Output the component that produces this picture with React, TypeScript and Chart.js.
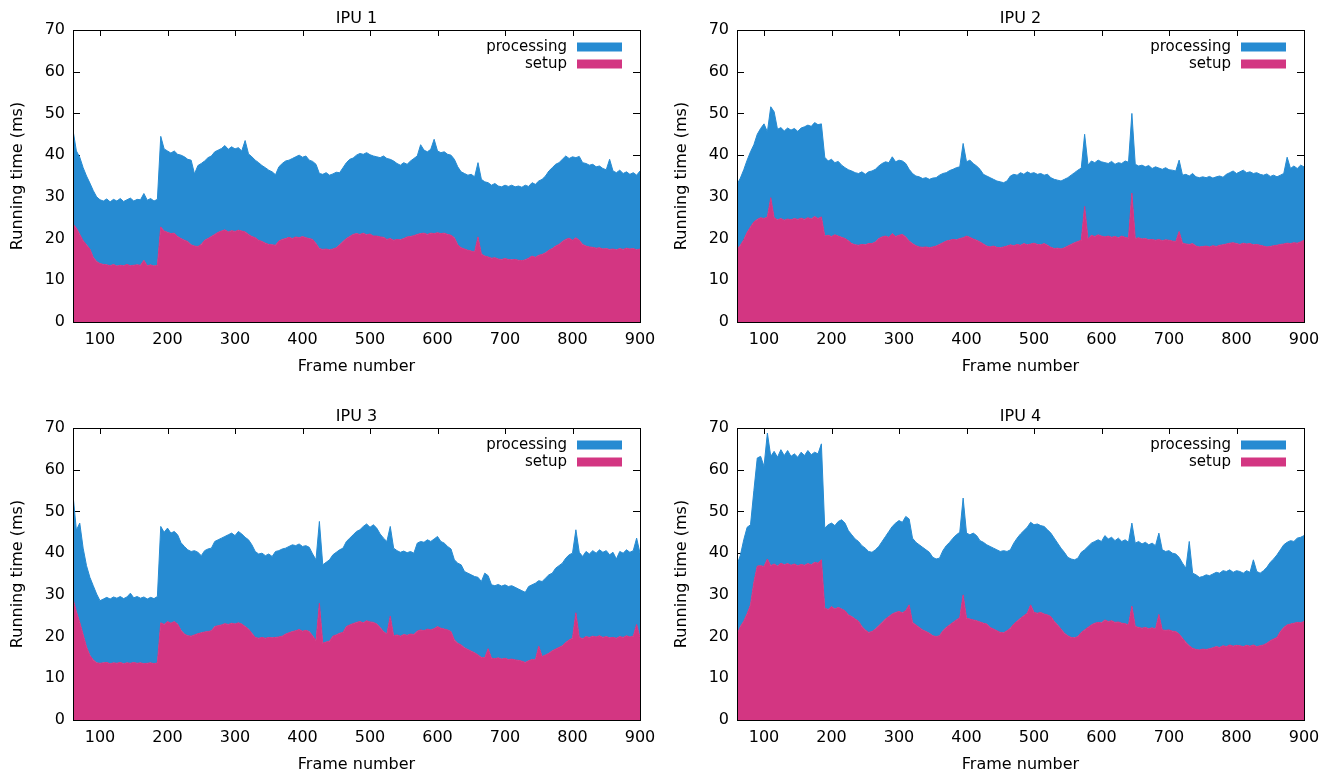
import { useEffect, useRef } from "react";
import { Chart, registerables } from "chart.js";

Chart.register(...registerables);

// ---- data -----------------------------------------------------------------
const FRAME_START = 60;
const FRAME_STEP = 5;
const X_TICKS = [100, 200, 300, 400, 500, 600, 700, 800, 900];
const Y_TICKS = [0, 10, 20, 30, 40, 50, 60, 70];
const SERIES_LABELS = ["processing", "setup"];

const IPU1_SETUP = [
  23.5, 22.5, 21, 19.5, 18.5, 17.5, 15.5, 14.5, 14, 13.8,
  13.7, 13.5, 13.8, 13.4, 13.6, 13.5, 13.8, 13.5, 13.6, 13.7,
  13.6, 14.8, 13.5, 13.7, 13.4, 13.6, 22.8, 21.8, 21.5, 21.2,
  21.3, 20.5, 20, 19.6, 19.3, 18.5, 18.2, 18.1, 18.6, 19.6,
  20, 20.5, 21, 21.5, 21.8, 22.1, 21.6, 21.9, 21.7, 22,
  21.8, 21.6, 21, 20.5, 20.2, 19.6, 19.3, 18.9, 18.6, 18.5,
  18.4, 19.4, 19.8, 20, 20.3, 20, 20.4, 20.2, 20.5, 20.2,
  20, 19.8, 18.8, 17.6, 17.4, 17.5, 17.3, 17.5, 17.8, 18.5,
  19.3, 20, 20.5, 21, 21.2, 21, 21.3, 20.9, 21.1, 20.6,
  20.6, 20.4, 20.3, 19.8, 20, 19.6, 19.8, 19.7, 20, 20.4,
  20.5, 20.7, 21, 21.2, 21.3, 21, 21.3, 21.2, 21.4, 21.2,
  21.3, 21, 20.8, 20.2, 18.5, 17.8, 17.5, 17.2, 17, 16.8,
  20.4, 16.3, 15.8, 15.6, 15.3, 15.4, 15.1, 15.0, 15.2, 15.0,
  14.9, 15, 14.8, 14.7, 14.9, 15.3, 15.8, 15.5, 16, 16.2,
  16.6, 17.2, 17.6, 18.2, 18.6, 19.3, 19.8, 20.1, 19.6, 20.2,
  19.6, 18.6, 18.2, 18.0, 17.9, 17.7, 17.8, 17.5, 17.6, 17.4,
  17.5, 17.3, 17.6, 17.4, 17.7, 17.5, 17.6, 17.3, 17.5,
];
const IPU1_PROCESSING = [
  22.5, 18.5, 18.5, 17.5, 16.5, 15.8, 16, 15.5, 15.3, 15.2,
  15.8, 15.3, 15.6, 15.6, 16.0, 15.4, 15.5, 16.2, 15.4, 15.7,
  15.7, 16.0, 15.7, 15.9, 15.6, 15.8, 21.7, 19.7, 19.5, 19.3,
  19.7, 19.7, 20.0, 20.0, 19.7, 20.3, 17.3, 19.4, 19.4, 19.0,
  19.4, 19.3, 19.8, 19.7, 19.8, 20.2, 19.8, 20.1, 19.8, 19.8,
  19.2, 21.9, 19.3, 19.1, 18.6, 18.6, 18.2, 18.1, 17.8, 17.5,
  16.9, 17.8, 18.2, 18.6, 18.5, 19.2, 19.2, 19.8, 19.0, 19.6,
  18.8, 18.7, 19.0, 18.0, 18.0, 18.3, 17.9, 18.0, 18.1, 17.3,
  17.7, 18.2, 18.5, 18.3, 18.8, 19.4, 18.9, 19.7, 19.0, 19.2,
  19.0, 19.0, 19.5, 19.4, 19.0, 19.0, 18.2, 17.9, 18.2, 17.4,
  18.1, 18.5, 18.8, 21.3, 19.9, 19.8, 20.1, 22.6, 19.6, 19.4,
  19.5, 19.2, 19.2, 18.8, 18.7, 18.2, 18.1, 18.0, 18.4, 18.0,
  17.8, 17.9, 17.8, 17.8, 17.5, 17.8, 17.5, 17.4, 17.6, 17.5,
  17.9, 17.4, 17.8, 17.6, 17.9, 17.2, 17.6, 17.5, 17.8, 18.0,
  18.4, 19.0, 19.4, 19.6, 19.6, 19.7, 20.0, 19.1, 20.0, 19.2,
  20.1, 19.6, 19.8, 19.6, 19.9, 19.5, 19.6, 19.3, 18.9, 21.6,
  18.7, 18.5, 18.8, 18.2, 18.3, 17.9, 18.2, 17.9, 18.7,
];

const IPU2_SETUP = [
  17.5, 18.4, 19.7, 21.5, 22.8, 24, 24.6, 25, 24.8, 25.2,
  29.8, 25, 24.5, 24.8, 24.4, 24.7, 24.5, 24.8, 24.6, 24.9,
  24.6, 25, 24.7, 25.3, 24.8, 25.2, 20.6, 20.8, 20.5, 20.9,
  20.6, 20.3, 20, 19.5, 18.8, 18.5, 18.4, 18.6, 18.5, 18.8,
  18.8, 19.2, 20, 20.4, 20.6, 20.3, 21.2, 20.5, 20.8, 21,
  20.4, 19.4, 18.8, 18.3, 18, 17.9, 18, 17.8, 18, 18.2,
  18.6, 19, 19.4, 19.6, 19.8, 19.7, 20, 20.2, 20.6, 20.3,
  19.9, 19.6, 19.2, 18.7, 18.2, 18, 18.2, 17.9, 17.8, 18,
  18.2, 18.5, 18.3, 18.6, 18.4, 18.8, 18.5, 18.7, 18.9, 18.6,
  18.5, 18.8, 18.4, 17.9, 17.6, 17.7, 17.5, 17.8, 18.2, 18.6,
  19, 19.3, 19.6, 27.7, 19.9, 20.8, 20.5, 20.9, 20.6, 20.4,
  20.6, 20.3, 20.5, 20.2, 20.6, 20.3, 20.1, 30.9, 20, 20.2,
  19.9, 20, 19.7, 19.8, 19.6, 19.8, 19.5, 19.7, 19.6, 19.4,
  19.3, 21.7, 18.9, 18.7, 18.6, 18.8, 18.2, 18.0, 18.1, 18.2,
  18.0, 18.3, 18.1, 18.4, 18.5, 18.7, 18.9, 19.0, 18.8, 18.6,
  18.9, 18.7, 18.8, 18.5, 18.6, 18.4, 18.2, 18.0, 18.1, 18.3,
  18.4, 18.6, 18.7, 18.9, 18.8, 19, 18.9, 19.2, 19.6,
];
const IPU2_PROCESSING = [
  15.5, 16.1, 16.8, 17.3, 18.0, 18.5, 20.4, 21.4, 22.7, 20.4,
  21.8, 25.4, 21.7, 21.8, 21.4, 21.8, 21.5, 21.6, 21.1, 21.6,
  22.2, 22.2, 22.2, 22.5, 22.5, 22.3, 18.9, 17.8, 18.5, 17.3,
  17.9, 17.3, 17.0, 17.0, 17.4, 17.3, 17.2, 17.4, 16.9, 17.2,
  17.4, 17.4, 17.4, 17.6, 17.8, 17.9, 18.4, 17.9, 18.0, 17.6,
  17.6, 17.2, 16.8, 16.7, 16.8, 16.5, 16.6, 16.4, 16.5, 16.4,
  16.6, 16.6, 16.4, 16.7, 16.8, 17.3, 17.2, 22.6, 17.8, 18.5,
  18.1, 17.8, 17.4, 16.7, 16.8, 16.6, 16.0, 15.9, 15.8, 15.4,
  15.6, 16.5, 17.1, 16.6, 17.4, 16.6, 17.5, 16.9, 16.9, 16.8,
  17.1, 16.4, 17.0, 16.7, 16.6, 16.3, 16.3, 16.4, 16.4, 16.6,
  16.8, 17.1, 17.3, 17.3, 17.7, 17.8, 17.7, 17.9, 17.8, 17.8,
  17.4, 18.2, 17.3, 18.0, 17.4, 18.3, 18.2, 19.1, 17.8, 17.2,
  17.7, 17.2, 17.8, 17.0, 17.6, 17.1, 17.1, 17.3, 16.9, 17.0,
  16.9, 17.1, 16.3, 16.7, 16.4, 16.8, 16.6, 16.6, 16.7, 16.4,
  16.9, 16.2, 16.7, 16.6, 16.2, 16.7, 16.9, 17.2, 16.8, 17.4,
  17.5, 17.1, 17.2, 17.1, 17.2, 17.0, 17.0, 17.5, 16.8, 16.9,
  16.4, 16.6, 16.9, 20.6, 18.0, 18.4, 17.9, 18.4, 17.6,
];

const IPU3_SETUP = [
  29, 26, 23.4, 20.5, 17.5, 15.5, 14.4, 13.7, 13.6, 13.7,
  13.8, 13.5, 13.7, 13.6, 13.8, 13.5, 13.7, 13.6, 13.8, 13.6,
  13.7, 13.5, 13.6, 13.7, 13.5, 13.7, 23.3, 22.9, 23.6, 23.2,
  23.6, 23.0, 21.5, 20.6, 20.2, 20.1, 20.4, 20.7, 20.9, 21.1,
  21.2, 21.4, 22.4, 22.6, 22.8, 23.1, 22.9, 23.2, 23, 23.3,
  23, 22.4, 21.8, 20.8, 19.8, 19.6, 19.8, 19.6, 19.8, 19.7,
  19.8, 19.9, 20.1, 20.6, 20.9, 21.2, 21.4, 21.7, 21.3, 21.5,
  21.2, 20.2, 19.0, 28, 18.4, 18.7, 18.9, 20.1, 20.4, 20.8,
  21, 22.4, 22.8, 23.1, 23.4, 23.6, 23.3, 23.8, 23.5, 23.4,
  23, 22.2, 21.2, 20.6, 24.9, 20.2, 20.4, 20.1, 20.5, 20.3,
  20.6, 20.5, 21.3, 21.6, 21.4, 21.8, 21.6, 21.9, 22.4, 22.0,
  21.8, 21.6, 21.2, 19.2, 18.4, 18, 17.3, 16.9, 16.5, 16.1,
  15.6, 15, 14.9, 17.1, 14.8, 14.7, 14.9, 14.6, 14.8, 14.5,
  14.6, 14.4, 14.3, 14.1, 13.8, 14.2, 14.5, 14.4, 17.7, 15.2,
  15.6, 16, 16.6, 17, 17.4, 17.8, 18.6, 19.2, 19.6, 25.7,
  19.8, 19.5, 20, 19.8, 20.1, 19.9, 20.2, 19.8, 20, 19.7,
  19.8, 19.6, 20, 19.8, 20.2, 19.9, 20.1, 22.9, 19.8,
];
const IPU3_PROCESSING = [
  25.0, 19.5, 23.8, 20.7, 19.5, 18.7, 17.8, 16.5, 15.0, 15.3,
  15.6, 15.5, 15.8, 15.6, 15.8, 15.6, 15.8, 16.8, 15.5, 16.0,
  15.5, 16.0, 15.4, 15.7, 15.6, 15.9, 23.1, 22.1, 22.4, 21.6,
  21.6, 21.4, 21.0, 21.0, 20.6, 20.3, 20.2, 19.5, 18.5, 19.5,
  19.8, 19.8, 20.4, 20.6, 20.8, 20.9, 21.5, 21.6, 21.2, 21.9,
  21.6, 21.4, 21.4, 21.2, 20.6, 20.2, 20.2, 19.8, 20.0, 19.5,
  20.6, 20.7, 20.9, 20.6, 20.7, 20.8, 20.4, 20.5, 20.3, 20.3,
  20.2, 19.6, 19.4, 19.6, 18.8, 19.1, 19.5, 19.5, 19.8, 20.0,
  20.2, 20.4, 20.8, 21.3, 21.8, 22.0, 23.1, 23.2, 22.7, 23.4,
  23.0, 22.4, 22.4, 22.2, 21.5, 21.0, 20.2, 20.1, 20.0, 19.8,
  19.8, 19.5, 21.1, 21.2, 21.2, 21.4, 21.2, 21.5, 21.6, 20.8,
  20.6, 20.0, 19.8, 19.2, 19.2, 19.2, 18.3, 18.3, 18.3, 18.3,
  18.6, 18.2, 20.3, 17.5, 17.6, 17.5, 17.6, 17.5, 17.6, 17.5,
  17.6, 17.4, 17.1, 16.9, 16.8, 17.8, 17.9, 18.4, 15.7, 18.0,
  18.4, 18.8, 18.6, 19.4, 19.6, 19.8, 20.2, 20.4, 20.4, 19.9,
  20.4, 19.7, 20.4, 20.0, 20.5, 20.1, 20.6, 20.4, 20.6, 19.9,
  20.4, 19.0, 20.4, 20.2, 20.6, 20.3, 20.5, 20.7, 20.2,
];

const IPU4_SETUP = [
  20.5, 22.4, 23.7, 25.5, 27.6, 33, 36.9, 37, 36.8, 38.6,
  37, 37.4, 36.9, 37.6, 37.2, 37.5, 37.1, 37.4, 37, 37.3,
  37.1, 37.5, 37.2, 37.8, 37.6, 38.4, 26.8, 26.5, 27.2, 26.6,
  27, 26.6, 26.2, 25.2, 24.8, 24.2, 23.7, 22.4, 21.6, 21,
  21.2, 21.8, 22.6, 23.4, 24.2, 24.8, 25.4, 25.8, 26, 25.7,
  26.2, 27.6, 23.4, 22.8, 22.2, 21.6, 21.2, 20.8, 20.2, 20.0,
  20.2, 21.4, 22.2, 22.8, 23.4, 24, 24.5, 30, 24.4, 24.2,
  24, 23.8, 23.5, 23.2, 23, 22.2, 21.8, 21.4, 21, 20.9,
  21.4, 22, 23, 23.7, 24.4, 25, 25.6, 27.6, 25.8, 25.6,
  25.8, 25.4, 25.2, 24.8, 23.6, 22.8, 21.8, 20.8, 20.2, 19.8,
  19.7, 20, 21, 21.6, 22.2, 22.8, 23.2, 23.4, 23.3, 24,
  23.6, 23.8, 23.4, 23.5, 23.2, 23.1, 22.8, 27.3, 22.4, 22.2,
  22, 22.2, 21.9, 22.1, 21.8, 25.3, 21.6, 21.5, 21.6, 21.3,
  21.2, 20.6, 19.6, 18.6, 17.8, 17.2, 16.9, 16.8, 17, 16.9,
  17.1, 17.3, 17.6, 17.4, 17.8, 17.6, 18, 17.7, 17.9, 17.8,
  17.6, 17.9, 17.7, 18, 17.6, 17.8, 18, 18.4, 19, 19.4,
  19.8, 21.2, 22.2, 22.8, 23, 23.2, 23.4, 23.3, 23.6,
];
const IPU4_PROCESSING = [
  16.7, 17.1, 19.5, 20.7, 19.2, 22.0, 25.9, 26.2, 24.0, 30.2,
  26.2, 27.0, 26.1, 27.2, 26.2, 27.1, 26.1, 26.4, 26.0, 26.9,
  26.3, 27.1, 26.4, 26.4, 26.2, 27.8, 19.2, 20.3, 20.0, 20.0,
  20.6, 21.4, 21.0, 20.2, 19.6, 19.2, 19.1, 19.4, 19.6, 19.4,
  19.0, 19.0, 19.0, 19.4, 19.8, 20.4, 21.0, 21.4, 21.8, 21.7,
  22.6, 20.6, 20.2, 19.8, 19.8, 19.8, 19.6, 19.4, 18.8, 18.6,
  18.6, 19.2, 19.6, 19.8, 20.2, 20.4, 20.5, 23.2, 20.4, 20.2,
  20.8, 20.4, 19.5, 19.4, 19.0, 19.4, 19.4, 19.4, 19.4, 19.7,
  19.0, 18.8, 19.4, 19.9, 20.2, 20.4, 20.6, 19.8, 21.0, 21.4,
  20.8, 21.0, 20.4, 20.0, 20.0, 19.6, 19.4, 19.4, 18.8, 18.8,
  18.7, 18.8, 19.2, 19.2, 19.4, 19.6, 19.6, 19.8, 19.5, 20.2,
  19.8, 20.0, 19.6, 20.1, 19.6, 20.1, 19.8, 19.9, 20.0, 20.6,
  20.2, 20.4, 20.1, 20.3, 20.0, 19.5, 19.2, 18.9, 19.0, 18.7,
  18.6, 18.4, 18.0, 17.8, 25.0, 18.0, 17.9, 17.4, 17.4, 17.9,
  17.5, 17.7, 17.8, 17.8, 18.0, 18.0, 18.0, 17.7, 17.9, 17.8,
  17.6, 17.9, 17.7, 20.4, 18.0, 17.4, 17.8, 18.2, 18.8, 19.2,
  19.8, 19.6, 19.8, 19.8, 20.0, 19.6, 20.2, 20.5, 20.6,
];

// ---- style ----------------------------------------------------------------
const BLUE = "#268bd2";
const MAGENTA = "#d33682";
const FONT = "DejaVu Sans";
const CANVAS_H = 377;
const PLOT_LEFT = 73;
const PLOT_RIGHT = 640;
const PLOT_BOTTOM = 322;

type Panel = {
  title: string;
  setup: number[];
  processing: number[];
  left: number;
  top: number;
  width: number;
};

const PANELS: Panel[] = [
  { title: "IPU 1", setup: IPU1_SETUP, processing: IPU1_PROCESSING, left: 0, top: 0, width: 664 },
  { title: "IPU 2", setup: IPU2_SETUP, processing: IPU2_PROCESSING, left: 664, top: 0, width: 670 },
  { title: "IPU 3", setup: IPU3_SETUP, processing: IPU3_PROCESSING, left: 0, top: 398, width: 664 },
  { title: "IPU 4", setup: IPU4_SETUP, processing: IPU4_PROCESSING, left: 664, top: 398, width: 670 },
];

const framePlugin = {
  id: "gnuplotFrame",
  beforeDatasetsDraw(chart: any) {
    const { ctx, chartArea: a, scales } = chart;
    ctx.save();
    ctx.strokeStyle = "#000";
    ctx.lineWidth = 1;
    ctx.beginPath();
    for (const v of X_TICKS) {
      const px = Math.round(scales.x.getPixelForValue(v)) + 0.5;
      ctx.moveTo(px, a.top);
      ctx.lineTo(px, a.top + 6);
      ctx.moveTo(px, a.bottom);
      ctx.lineTo(px, a.bottom - 6);
    }
    for (const v of Y_TICKS) {
      const py = Math.round(scales.y.getPixelForValue(v)) + 0.5;
      ctx.moveTo(a.left, py);
      ctx.lineTo(a.left + 7, py);
      ctx.moveTo(a.right, py);
      ctx.lineTo(a.right - 7, py);
    }
    ctx.stroke();
    ctx.restore();
  },
  afterDatasetsDraw(chart: any) {
    const { ctx, chartArea: a } = chart;
    ctx.save();
    ctx.strokeStyle = "#000";
    ctx.lineWidth = 1;
    ctx.strokeRect(
      Math.round(a.left) + 0.5,
      Math.round(a.top) + 0.5,
      Math.round(a.right - a.left),
      Math.round(a.bottom - a.top)
    );
    // legend (text right-aligned, sample box on the right)
    const colors = [BLUE, MAGENTA];
    ctx.font = `15px "${FONT}"`;
    ctx.textAlign = "right";
    ctx.textBaseline = "alphabetic";
    SERIES_LABELS.forEach((label, i) => {
      const yc = a.top + 17 + i * 17;
      ctx.fillStyle = colors[i];
      ctx.fillRect(a.right - 63, yc - 4.5, 45, 9);
      ctx.fillStyle = "#000";
      ctx.fillText(label, a.right - 73, yc + 4);
    });
    ctx.restore();
  },
};

function IpuChart({ panel }: { panel: Panel }) {
  const ref = useRef<HTMLCanvasElement | null>(null);
  useEffect(() => {
    if (!ref.current) return;
    const frames = panel.setup.map((_, i) => FRAME_START + i * FRAME_STEP);
    const tickFont = { family: FONT, size: 16 };
    const chart = new Chart(ref.current, {
      type: "line",
      data: {
        datasets: [
          {
            label: SERIES_LABELS[1],
            data: frames.map((x, i) => ({ x, y: panel.setup[i] })),
            backgroundColor: MAGENTA,
            borderColor: MAGENTA,
            borderWidth: 1,
            fill: "origin",
            pointRadius: 0,
            tension: 0,
          },
          {
            label: SERIES_LABELS[0],
            data: frames.map((x, i) => ({ x, y: panel.processing[i] })),
            backgroundColor: BLUE,
            borderColor: BLUE,
            borderWidth: 1,
            fill: "-1",
            pointRadius: 0,
            tension: 0,
          },
        ],
      },
      options: {
        responsive: false,
        animation: false,
        devicePixelRatio: 1,
        events: [],
        layout: { padding: { left: 0, right: panel.width - PLOT_RIGHT, top: 0, bottom: 0 } },
        plugins: {
          legend: { display: false },
          tooltip: { enabled: false },
          title: {
            display: true,
            text: panel.title,
            fullSize: false,
            color: "#000",
            font: { family: FONT, size: 16, weight: "normal" },
            padding: { top: 9.5, bottom: 1.3 },
          },
        },
        scales: {
          x: {
            type: "linear",
            min: FRAME_START,
            max: 900,
            grid: { display: false, drawTicks: false },
            border: { display: false },
            ticks: { color: "#000", font: tickFont, padding: 8.5, maxRotation: 0, autoSkip: false },
            afterBuildTicks: (axis: any) => {
              axis.ticks = X_TICKS.map((value) => ({ value }));
            },
            afterFit: (axis: any) => {
              axis.height = CANVAS_H - PLOT_BOTTOM;
            },
            title: {
              display: true,
              text: "Frame number",
              color: "#000",
              font: { family: FONT, size: 16 },
              padding: { top: 4, bottom: 0.4 },
            },
          },
          y: {
            stacked: true,
            min: 0,
            max: 70,
            grid: { display: false, drawTicks: false },
            border: { display: false },
            ticks: { color: "#000", font: tickFont, padding: 8 },
            afterBuildTicks: (axis: any) => {
              axis.ticks = Y_TICKS.map((value) => ({ value }));
            },
            afterFit: (axis: any) => {
              axis.width = PLOT_LEFT;
            },
            title: {
              display: true,
              text: "Running time (ms)",
              color: "#000",
              font: { family: FONT, size: 16 },
              padding: { top: 8, bottom: 0 },
            },
          },
        },
      },
      plugins: [framePlugin],
    } as any);
    return () => chart.destroy();
  }, [panel]);
  return (
    <canvas
      ref={ref}
      width={panel.width}
      height={CANVAS_H}
      style={{
        position: "absolute",
        left: panel.left,
        top: panel.top,
        width: panel.width,
        height: CANVAS_H,
        display: "block",
      }}
    />
  );
}

export default function App() {
  return (
    <div
      style={{
        position: "absolute",
        left: 0,
        top: 0,
        width: 1334,
        height: 772,
        background: "#fff",
        overflow: "hidden",
      }}
    >
      {PANELS.map((p) => (
        <IpuChart key={p.title} panel={p} />
      ))}
    </div>
  );
}
